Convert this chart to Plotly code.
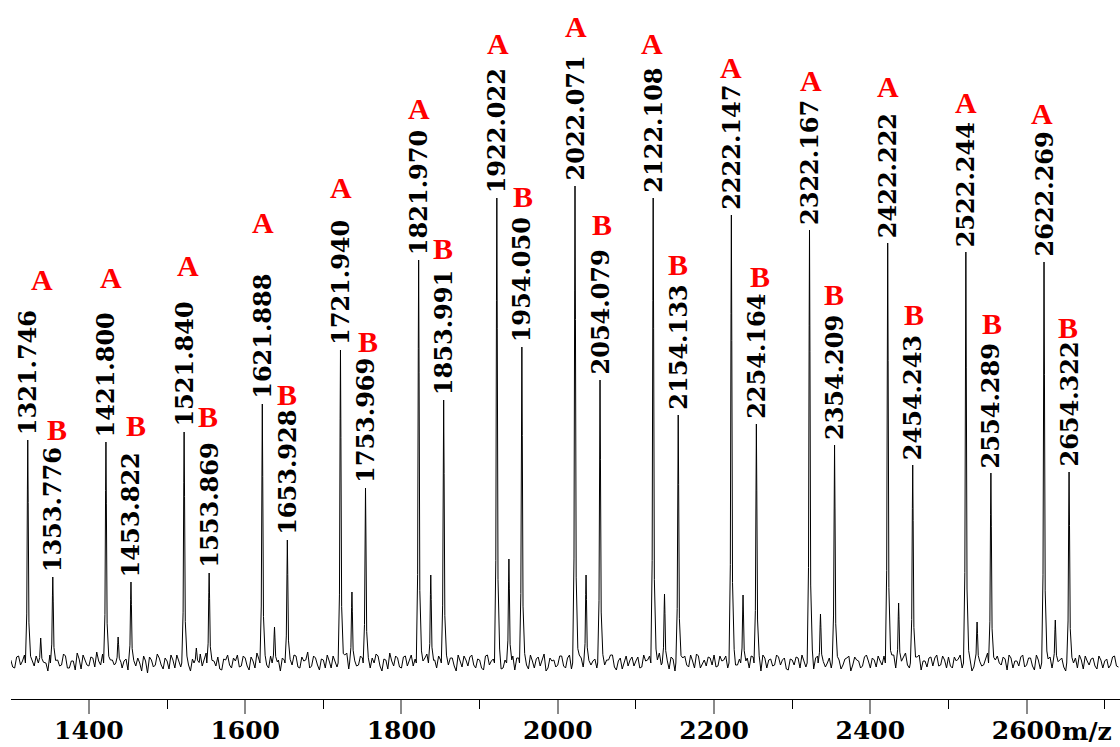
import numpy as np
import plotly.graph_objects as go

# ---------------- data ----------------
mz_a = [1321.746, 1421.800, 1521.840, 1621.888, 1721.940, 1821.970, 1922.022,
        2022.071, 2122.108, 2222.147, 2322.167, 2422.222, 2522.244, 2622.269]
int_a = [223, 221, 231, 259, 313, 403, 465, 477, 465, 448, 433, 420, 411, 401]

mz_b = [1353.776, 1453.822, 1553.869, 1653.928, 1753.969, 1853.991, 1954.050,
        2054.079, 2154.133, 2254.164, 2354.209, 2454.243, 2554.289, 2654.322]
int_b = [86, 81, 90, 123, 175, 263, 316, 283, 248, 239, 218, 198, 190, 191]

mz_minor = [1338.3, 1437.4, 1537.5, 1637.5, 1736.6, 1837.5, 1937.5,
            2036.2, 2136.6, 2237.1, 2336.2, 2436.2, 2536.6, 2636.7]
int_minor = [25, 26, 15, 36, 71, 88, 104, 88, 69, 68, 49, 60, 41, 43]

# baseline noise, read as two interleaved samplings (every 5 m/z from 1300 and from 1302.5)
noise_start = 1300
noise_step = 5
noise = [
    3, -5, 7, 2, -8, 9, -3, 5, -7, 0, 8, -9, 3, -2, 7, -5, 2, 10, -6, 3,
    -3, 5, 11, -2, 6, -8, 3, -5, 8, 2, -7, 5, -3, 0, 7, -10, 3, -2, 5, -6,
    2, 8, -5, 3, -2, 7, -8, 5, 0, -3, 10, -5, 2, 6, -7, 3, -2, 5, 8, -3,
    5, -7, 2, 10, -3, 6, -5, 0, 8, -8, 3, 5, -2, 7, -5, 2, 11, -3, 5, -7,
    3, 8, -5, 2, 7, -3, 10, -6, 3, -2, 5, 8, -5, 0, 7, -8, 3, 10, -3, 5,
    -5, 7, 2, -3, 8, -7, 5, 0, 10, -5, 3, 6, -2, 5, -8, 2, 7, -3, 8, -5,
    3, -7, 8, 2, -3, 6, -5, 10, 0, -7, 5, 3, -2, 8, -5, 6, 2, -8, 5, 3,
    -2, 7, -5, 8, 3, -7, 5, -3, 10, 2, -5, 7, -2, 3, 8, -7, 5, 0, -3, 6,
    2, -5, 8, 3, -7, 5, 10, -3, 2, 6, -8, 3, 5, -2, 8, -5, 7, 0, -3, 5,
    8, -3, 2, 7, -6, 5, -2, 10, 3, -5, 6, 2, -8, 5, 3, -3, 8, -2, 5, -7,
    3, 6, -5, 2, 8, -3, 5, -7, 10, 0, -5, 7, 3, -2, 5, -8, 6, 2, -3, 8,
    -5, 3, 7, -2, 5, -6, 8, 2, -3, 10, -5, 3, 6, -7, 2, 5, -3, 8, -2, 3,
    6, -5, 2, 8, -3, 5, -8, 3, 7, -2, 10, -5, 3, 0, 6, -7, 5, 2, -3, 8,
    -2, 5, -7, 3, 8, -5, 6, 2, -3, 5, -8, 10, 0, -5, 3, 7, -2, 5, -6, 3,
    2, -5, 6, -3,
]
noise_mid_start = 1302.5
noise_mid = [
    -4, 6, -2, 8, -6, 3, 7, -5, 2, -8, 4, 6, -3, 9, -5, 2, -7, 4, 8, -2,
    6, -4, 2, 9, -7, 3, -2, 8, -5, 4, 7, -3, 5, -8, 2, 6, -4, 9, -2, 5,
    -6, 3, 8, -4, 7, -2, 4, -6, 9, 3, -5, 7, -3, -6, 4, 8, -5, 2, -4, 7,
    -3, 6, -5, 4, 8, -2, 7, -6, 3, 5, -7, 2, 8, -4, 6, 3, -5, 7, -2, 4,
    -5, 2, 7, -4, 3, 8, -6, 4, -3, 7, -2, -6, 5, 9, -3, 4, -6, 2, 7, -4,
    6, -3, 8, 4, -5, 2, 9, -4, 3, 7, -6, 2, 5, -3, 8, -4, 3, 6, -2, 4,
    -5, 7, -2, 4, 8, -6, 3, -4, 7, 5, -3, 8, -6, 2, 4, -3, 9, -5, 2, -4,
    7, -3, 5, -6, 2, 8, -4, 6, -2, 4, 7, -5, 3, 8, -4, 2, -6, 7, 3, -3,
    6, -4, 2, 7, -5, 3, -2, 8, -6, 4, 5, -3, 7, -4, 2, 9, -5, 3, 6, -2,
    -4, 7, 3, -5, 8, -2, 4, -6, 5, 7, -3, 2, 8, -5, 4, -2, 6, 3, -6, 4,
    -2, 5, 8, -4, 3, -6, 7, 2, -4, 5, 8, -3, -6, 4, 7, -2, 3, -5, 6, 2,
    5, -4, 2, 7, -3, 8, -5, 4, 6, -2, 3, -6, 8, 2, -4, 6, 5, -3, 7, -5,
    -3, 6, 4, -5, 7, 2, -4, 8, -3, 5, -6, 3, 7, -2, 4, 8, -5, 2, 6, -4,
    5, -3, 8, -6, 2, 4, -5, 7, 3, -4, 6, -2, 5, 8, -6, 2, 4, -3, 7, -5,
    4, -2, 7, -4,
]

# ---------------- label placement tweaks (pixels) ----------------
a_lift = [161, 165, 167, 182, 163, 152, 155, 160, 155, 148, 150, 157, 150, 149]
a_dx = [14, 5, 4, 1, 1, 0, 1, 1, -1, 0, 1, 0, 0, -2]
b_lift = [148, 157, 157, 146, 147, 152, 151, 156, 151, 148, 151, 151, 150, 145]
b_dx = [4, 5, -1, 0, 2, -1, 1, 2, 0, 4, -1, 1, 1, -1]

# ---------------- build the spectrum line ----------------
shape_dx = [-3.0, -1.3, -0.45, 0.0, 0.55, 1.5, 3.6]
shape_f = [0.0, 0.22, 0.78, 1.0, 0.72, 0.18, 0.03]

all_peaks = list(zip(mz_a, int_a)) + list(zip(mz_b, int_b)) + list(zip(mz_minor, int_minor))

noise_x = [noise_start + noise_step * i for i in range(len(noise))]
noise_mid_x = [noise_mid_start + noise_step * i for i in range(len(noise_mid))]
pts = []
for x, v in list(zip(noise_x, noise)) + list(zip(noise_mid_x, noise_mid)):
    if any(m - 3.5 <= x <= m + 4.2 for m, _ in all_peaks):
        continue
    pts.append((x, v))
for m, h in all_peaks:
    for dx, f in zip(shape_dx, shape_f):
        pts.append((m + dx, h * f))
pts.sort(key=lambda p: p[0])
line_x = [p[0] for p in pts]
line_y = [p[1] for p in pts]

fig = go.Figure()
fig.add_trace(go.Scatter(x=line_x, y=line_y, mode="lines",
                         line=dict(color="black", width=1), hoverinfo="skip",
                         showlegend=False))

num_font = dict(family="DejaVu Serif", size=24, color="black", weight="bold")
letter_font = dict(family="Liberation Serif", size=30, color="#ff0000", weight="bold")

for i, (m, h) in enumerate(zip(mz_a, int_a)):
    fig.add_annotation(x=m, y=h, text=f"{m:.3f}", textangle=-90, showarrow=False,
                       xanchor="center", yanchor="bottom", yshift=3, font=num_font)
    fig.add_annotation(x=m, y=h, text="A", showarrow=False, xanchor="center",
                       yanchor="middle", yshift=a_lift[i], xshift=a_dx[i], font=letter_font)
for i, (m, h) in enumerate(zip(mz_b, int_b)):
    fig.add_annotation(x=m, y=h, text=f"{m:.3f}", textangle=-90, showarrow=False,
                       xanchor="center", yanchor="bottom", yshift=3, font=num_font)
    fig.add_annotation(x=m, y=h, text="B", showarrow=False, xanchor="center",
                       yanchor="middle", yshift=b_lift[i], xshift=b_dx[i], font=letter_font)

tick_font = dict(family="DejaVu Serif", size=25, color="black", weight="bold")
fig.add_annotation(x=2600, y=0, xref="x", yref="paper", text="m/z", showarrow=False,
                   xanchor="left", yanchor="top", xshift=33, yshift=-16, font=tick_font)

fig.update_xaxes(range=[1300.3, 2719.5], showgrid=False, zeroline=False,
                 automargin=False,
                 showline=True, linecolor="black", linewidth=1.3,
                 tickmode="linear", tick0=1400, dtick=200,
                 ticks="outside", ticklen=14, tickwidth=1.5, tickcolor="#8a8a8a",
                 tickfont=tick_font, ticklabelstandoff=-5,
                 minor=dict(tickmode="linear", tick0=1300, dtick=100, ticks="outside",
                            ticklen=9, tickwidth=1.2, tickcolor="black"))
fig.update_yaxes(range=[-36, 663], visible=False, fixedrange=True, automargin=False)

fig.update_layout(width=1120, height=747, margin=dict(l=11, r=0, t=0, b=48),
                  plot_bgcolor="white", paper_bgcolor="white", showlegend=False)

fig.write_html("out.html", config={"displayModeBar": False},
               post_script="document.body.style.margin='0px';document.body.style.overflow='hidden';")
